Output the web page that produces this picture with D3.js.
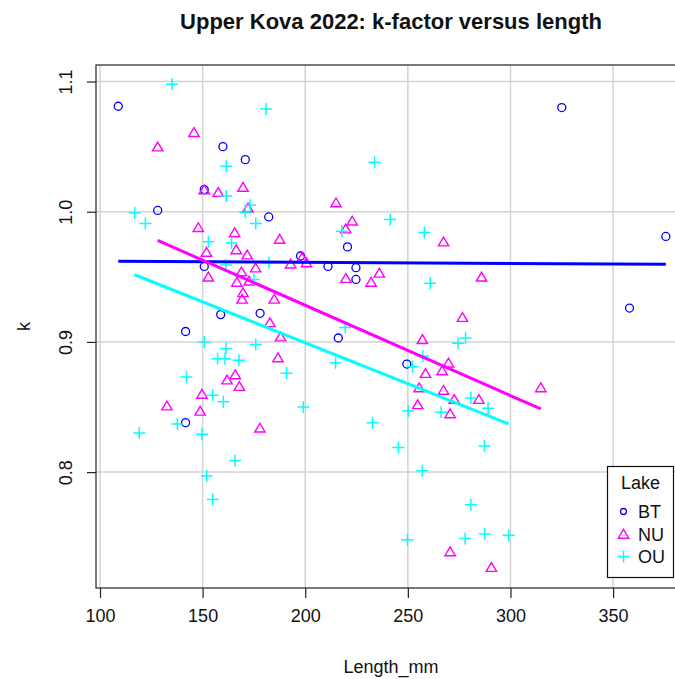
<!DOCTYPE html>
<html>
<head>
<meta charset="utf-8">
<script src="https://cdn.jsdelivr.net/npm/d3@7"></script>
<style>
  html, body { margin: 0; padding: 0; background: #fff; }
  svg { display: block; font-family: "Liberation Sans", Arial, sans-serif; }
</style>
</head>
<body>
<svg id="chart" width="675" height="679"></svg>
<script>
// Length (mm) and condition factor k for each lake
const btLength = [108.9, 159.9, 170.8, 150.8, 128.1, 182.2, 150.8, 158.8, 178.0, 141.7, 141.7,
                  220.6, 197.7, 211.1, 224.7, 224.7, 216.1, 249.5, 325.0, 358.0, 375.7];
const btK      = [1.081, 1.050, 1.040, 1.017, 1.001, 0.996, 0.958, 0.921, 0.922, 0.908, 0.838,
                  0.973, 0.966, 0.958, 0.957, 0.948, 0.903, 0.883, 1.080, 0.926, 0.981];

const nuLength = [145.8, 128.1, 150.8, 157.6, 169.7, 172.1, 147.9, 165.6, 187.5, 215.0, 222.9,
                  219.7, 267.4, 151.9, 166.4, 171.7, 175.8, 152.8, 168.9, 166.7, 172.7, 169.7,
                  169.2, 184.9, 182.8, 188.0, 186.7, 165.9, 161.9, 167.9, 149.7, 132.6, 148.8,
                  177.9, 192.9, 200.6, 219.8, 236.1, 232.1, 276.6, 257.1, 269.8, 266.7, 258.6,
                  255.5, 267.4, 272.6, 254.8, 270.6, 285.9, 314.8, 284.6, 270.6, 290.7, 198.5];
const nuK      = [1.061, 1.050, 1.017, 1.015, 1.019, 1.003, 0.988, 0.984, 0.979, 1.007, 0.993,
                  0.987, 0.977, 0.969, 0.971, 0.967, 0.957, 0.950, 0.954, 0.946, 0.947, 0.938,
                  0.933, 0.933, 0.915, 0.904, 0.888, 0.875, 0.871, 0.866, 0.860, 0.851, 0.847,
                  0.834, 0.960, 0.961, 0.949, 0.953, 0.946, 0.919, 0.902, 0.884, 0.878, 0.876,
                  0.865, 0.863, 0.856, 0.852, 0.845, 0.950, 0.865, 0.856, 0.739, 0.727, 0.965];

const ouLength = [135.1, 180.9, 161.5, 161.5, 116.9, 122.1, 173.1, 170.8, 175.9, 152.8, 164.1,
                  233.8, 241.4, 217.8, 258.0, 161.4, 182.3, 175.0, 150.8, 161.4, 157.3, 160.9,
                  167.7, 175.9, 190.9, 142.1, 154.9, 160.1, 137.7, 119.1, 149.7, 219.5, 214.8,
                  199.1, 232.8, 260.9, 274.4, 278.1, 257.3, 252.3, 280.7, 250.2, 266.2, 289.1,
                  165.8, 152.0, 154.9, 245.4, 257.0, 249.8, 280.7, 277.9, 287.3, 287.5, 299.1];
const ouK      = [1.098, 1.079, 1.035, 1.012, 0.999, 0.991, 1.005, 0.9995, 0.991, 0.977, 0.976,
                  1.038, 0.994, 0.985, 0.984, 0.959, 0.961, 0.948, 0.900, 0.895, 0.887, 0.887,
                  0.886, 0.898, 0.876, 0.873, 0.859, 0.854, 0.837, 0.830, 0.829, 0.911, 0.884,
                  0.850, 0.838, 0.945, 0.899, 0.903, 0.889, 0.881, 0.857, 0.847, 0.846, 0.849,
                  0.809, 0.797, 0.779, 0.819, 0.801, 0.748, 0.775, 0.749, 0.820, 0.7525, 0.7515];

// Fitted linear trend per lake, evaluated at each lake's length range
const fitLength = { BT: [108.9, 375.7], NU: [128.1, 314.8], OU: [116.9, 299.1] };
const fitK      = { BT: [0.962, 0.9596], NU: [0.978, 0.8485], OU: [0.9516, 0.837] };

const lakes   = ["BT", "NU", "OU"];
const colours = { BT: "#0000ff", NU: "#ff00ff", OU: "#00ffff" };
const xTicks  = [100, 150, 200, 250, 300, 350, 400];
const yTicks  = [0.8, 0.9, 1.0, 1.1];

const titleText = "Upper Kova 2022: k-factor versus length";
const xLabel = "Length_mm";
const yLabel = "k";
const legendTitle = "Lake";

const svg = d3.select("#chart");
const plot = { left: 96, top: 65, bottom: 588, right: 688 };

const x = d3.scaleLinear().domain([98.05, 386.5]).range([plot.left, plot.right]);
const y = d3.scaleLinear().domain([0.711, 1.1127]).range([plot.bottom, plot.top]);

// grid
const grid = svg.append("g").attr("stroke", "#d3d3d3").attr("stroke-width", 1.5);
grid.selectAll("line.gx").data(xTicks).join("line")
  .attr("x1", d => x(d)).attr("x2", d => x(d))
  .attr("y1", plot.top).attr("y2", plot.bottom);
grid.selectAll("line.gy").data(yTicks).join("line")
  .attr("x1", plot.left).attr("x2", plot.right)
  .attr("y1", d => y(d)).attr("y2", d => y(d));

// axes
const xAxis = svg.append("g").attr("transform", `translate(0,${plot.bottom})`)
  .call(d3.axisBottom(x).tickValues(xTicks.filter(v => v <= 350)).tickSize(10).tickPadding(0).tickFormat(d3.format("d")));
xAxis.select(".domain").remove();
xAxis.selectAll(".tick line").attr("stroke", "#222").attr("stroke-width", 1.2);
xAxis.selectAll(".tick text").attr("y", 34).attr("dy", 0)
  .attr("font-size", 18).attr("fill", "#111").attr("font-family", "Liberation Sans, Arial, sans-serif");

const yAxis = svg.append("g").attr("transform", `translate(${plot.left},0)`)
  .call(d3.axisLeft(y).tickValues(yTicks).tickSize(9).tickFormat(d3.format(".1f")));
yAxis.select(".domain").remove();
yAxis.selectAll(".tick line").attr("stroke", "#222").attr("stroke-width", 1.2);
yAxis.selectAll(".tick text")
  .attr("x", null).attr("dy", null).attr("y", null)
  .attr("transform", "translate(-24,0) rotate(-90)")
  .attr("text-anchor", "middle")
  .attr("font-size", 18).attr("fill", "#111").attr("font-family", "Liberation Sans, Arial, sans-serif");

// frame
svg.append("rect")
  .attr("x", plot.left).attr("y", plot.top)
  .attr("width", plot.right - plot.left).attr("height", plot.bottom - plot.top)
  .attr("fill", "none").attr("stroke", "#222").attr("stroke-width", 1.2);

// point symbols
const symbol = {
  BT: (g, cx, cy, s) => g.append("circle").attr("cx", cx).attr("cy", cy).attr("r", 4 * s)
        .attr("fill", "none").attr("stroke", colours.BT).attr("stroke-width", 1.3),
  NU: (g, cx, cy, s) => g.append("path")
        .attr("d", `M${cx},${cy - 4.6 * s}L${cx + 5.2 * s},${cy + 4.2 * s}L${cx - 5.2 * s},${cy + 4.2 * s}Z`)
        .attr("fill", "none").attr("stroke", colours.NU).attr("stroke-width", 1.4),
  OU: (g, cx, cy, s) => g.append("path")
        .attr("d", `M${cx - 6 * s},${cy}H${cx + 6 * s}M${cx},${cy - 6 * s}V${cy + 6 * s}`)
        .attr("fill", "none").attr("stroke", colours.OU).attr("stroke-width", 1.5)
};

const series = {
  BT: d3.zip(btLength, btK),
  NU: d3.zip(nuLength, nuK),
  OU: d3.zip(ouLength, ouK)
};

const pts = svg.append("g");
lakes.forEach(l => series[l].forEach(([len, k]) => symbol[l](pts, x(len), y(k), 1)));

// trend lines
const line = d3.line().x(d => x(d[0])).y(d => y(d[1]));
lakes.forEach(l => {
  svg.append("path")
    .attr("d", line(d3.zip(fitLength[l], fitK[l])))
    .attr("fill", "none").attr("stroke", colours[l]).attr("stroke-width", 3);
});

// titles
svg.append("text").attr("x", 391).attr("y", 29).attr("text-anchor", "middle")
  .attr("font-size", 22).attr("font-weight", "bold").attr("fill", "#111").text(titleText);
svg.append("text").attr("x", 391).attr("y", 673).attr("text-anchor", "middle")
  .attr("font-size", 18).attr("fill", "#111").text(xLabel);
svg.append("text").attr("transform", `translate(30,${(plot.top + plot.bottom) / 2}) rotate(-90)`)
  .attr("text-anchor", "middle").attr("font-size", 18).attr("fill", "#111").text(yLabel);

// legend
const lg = svg.append("g");
lg.append("rect").attr("x", 607.5).attr("y", 466.5).attr("width", 66).attr("height", 111)
  .attr("fill", "#fff").attr("stroke", "#111").attr("stroke-width", 1.2);
lg.append("text").attr("x", 621).attr("y", 488.5).attr("font-size", 18).attr("fill", "#111").text(legendTitle);
lakes.forEach((l, i) => {
  const cy = 511.5 + i * 22.5;
  symbol[l](lg, 623.5, cy, l === "BT" ? 0.75 : 1);
  lg.append("text").attr("x", 638).attr("y", cy + 6.5).attr("font-size", 18).attr("fill", "#111").text(l);
});
</script>
</body>
</html>
